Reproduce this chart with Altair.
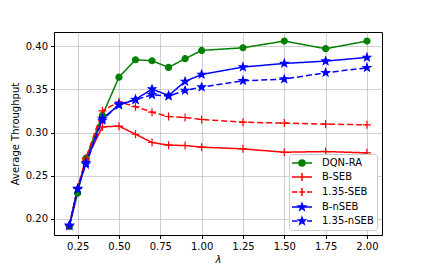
import math
import altair as alt
import pandas as pd

lam = [0.2, 0.25, 0.3, 0.4, 0.5, 0.6, 0.7, 0.8, 0.9, 1.0, 1.25, 1.5, 1.75, 2.0]
dqn_ra = [0.191, 0.2295, 0.270, 0.320, 0.3643, 0.3845, 0.3833, 0.3756, 0.3857, 0.3953, 0.3984, 0.4062, 0.3973, 0.4062]
b_seb = [0.192, 0.235, 0.268, 0.3066, 0.3074, 0.298, 0.2884, 0.2853, 0.2849, 0.283, 0.281, 0.2771, 0.2779, 0.2764]
seb_135 = [0.192, 0.236, 0.270, 0.3252, 0.3357, 0.330, 0.3236, 0.3186, 0.3174, 0.3151, 0.312, 0.3109, 0.3097, 0.3089]
b_nseb = [0.192, 0.234, 0.265, 0.3163, 0.3318, 0.3384, 0.3504, 0.343, 0.3593, 0.3674, 0.376, 0.3802, 0.3829, 0.3872]
nseb_135 = [0.192, 0.235, 0.263, 0.314, 0.333, 0.338, 0.3438, 0.3422, 0.3488, 0.3527, 0.3601, 0.362, 0.3694, 0.3752]

series = ["DQN-RA", "B-SEB", "1.35-SEB", "B-nSEB", "1.35-nSEB"]
values = [dqn_ra, b_seb, seb_135, b_nseb, nseb_135]
colors = ["#008000", "#ff0000", "#ff0000", "#0000ff", "#0000ff"]
dashes = [[1, 0], [1, 0], [6, 3], [1, 0], [6, 3]]

rows = []
for s, vals in zip(series, values):
    for x, y in zip(lam, vals):
        rows.append({"series": s, "lam": x, "val": y})
df = pd.DataFrame(rows)


def star_path(R, r):
    pts = []
    for i in range(10):
        ang = -math.pi / 2 + i * math.pi / 5
        rad = R if i % 2 == 0 else r
        pts.append((rad * math.cos(ang), rad * math.sin(ang)))
    return "M" + "L".join(f"{px:.3f},{py:.3f}" for px, py in pts) + "Z"


def circle_path(r):
    return f"M{-r},0A{r},{r},0,1,0,{r},0A{r},{r},0,1,0,{-r},0Z"


# marker shapes for the plot (size 64 -> unit 4px)
plus_m = "M-1,0L1,0M0,-1L0,1"
shapes_plot = [circle_path(0.75), plus_m, plus_m, star_path(0.98, 0.4), star_path(0.98, 0.4)]

# legend symbols: line + marker (size 100 -> unit 5px)
solid = "M-2,0L2,0"
dashed = "M-2,0L-0.9,0M-0.5,0L0.6,0M1,0L2,0"
shapes_leg = [
    solid + circle_path(0.6),
    solid + "M0,-0.8L0,0.8",
    dashed + "M0,-0.8L0,0.8",
    solid + star_path(0.72, 0.29),
    dashed + star_path(0.72, 0.29),
]

xs = alt.Scale(domain=[0.107, 2.091], nice=False, zero=False)
ys = alt.Scale(domain=[0.181, 0.4167], nice=False, zero=False)
X = alt.X("lam:Q", scale=xs,
          axis=alt.Axis(values=[0.25, 0.5, 0.75, 1.0, 1.25, 1.5, 1.75, 2.0], format=".2f", title="λ",
                        titleFontStyle="italic"))
Y = alt.Y("val:Q", scale=ys,
          axis=alt.Axis(values=[0.2, 0.25, 0.3, 0.35, 0.4], format=".2f", title="Average Throughput"))

cscale = alt.Scale(domain=series, range=colors)

lines = alt.Chart(df).mark_line(strokeWidth=1.5).encode(
    x=X, y=Y,
    color=alt.Color("series:N", scale=cscale, legend=None),
    strokeDash=alt.StrokeDash("series:N", scale=alt.Scale(domain=series, range=dashes), legend=None),
    detail="series:N",
)

points = alt.Chart(df).mark_point(filled=True, size=64, strokeWidth=1.2, opacity=1).encode(
    x=X, y=Y,
    fill=alt.Fill("series:N", scale=cscale, legend=None),
    stroke=alt.Stroke("series:N", scale=cscale, legend=None),
    shape=alt.Shape("series:N", scale=alt.Scale(domain=series, range=shapes_plot), legend=None),
)

leg = alt.Legend(
    title=None, orient="bottom-right", offset=5,
    symbolSize=100, symbolStrokeWidth=1.5, symbolOffset=4,
    labelOffset=14, labelFontSize=10, labelFont="DejaVu Sans", labelColor="black",
    padding=3, rowPadding=1, fillColor="white", strokeColor="#cccccc", cornerRadius=3,
)

legend_layer = alt.Chart(df).transform_filter("false").mark_point(filled=True, size=100, opacity=1).encode(
    x=X, y=Y,
    fill=alt.Fill("series:N", scale=alt.Scale(domain=series, range=colors), legend=leg),
    stroke=alt.Stroke("series:N", scale=alt.Scale(domain=series, range=colors), legend=leg),
    shape=alt.Shape("series:N", scale=alt.Scale(domain=series, range=shapes_leg), legend=leg),
)

chart = alt.layer(lines, points, legend_layer).resolve_scale(
    fill="independent", stroke="independent", shape="independent"
).properties(
    width=328, height=203,
    padding={"left": 2, "top": 24, "right": 30, "bottom": 5},
).configure_view(
    stroke="black", strokeWidth=1
).configure_axis(
    labelFont="DejaVu Sans", titleFont="DejaVu Sans", labelFontSize=10, titleFontSize=10,
    labelColor="black", titleColor="black", titleFontWeight="normal",
    tickColor="black", domainColor="black", tickSize=3.5, labelPadding=3,
    gridColor="#b0b0b0", gridOpacity=0.6, gridWidth=1,
).configure_axisY(
    titlePadding=5
).configure_axisX(
    titlePadding=3
)

chart.save("out.html", embed_options={"renderer": "svg", "actions": False})
